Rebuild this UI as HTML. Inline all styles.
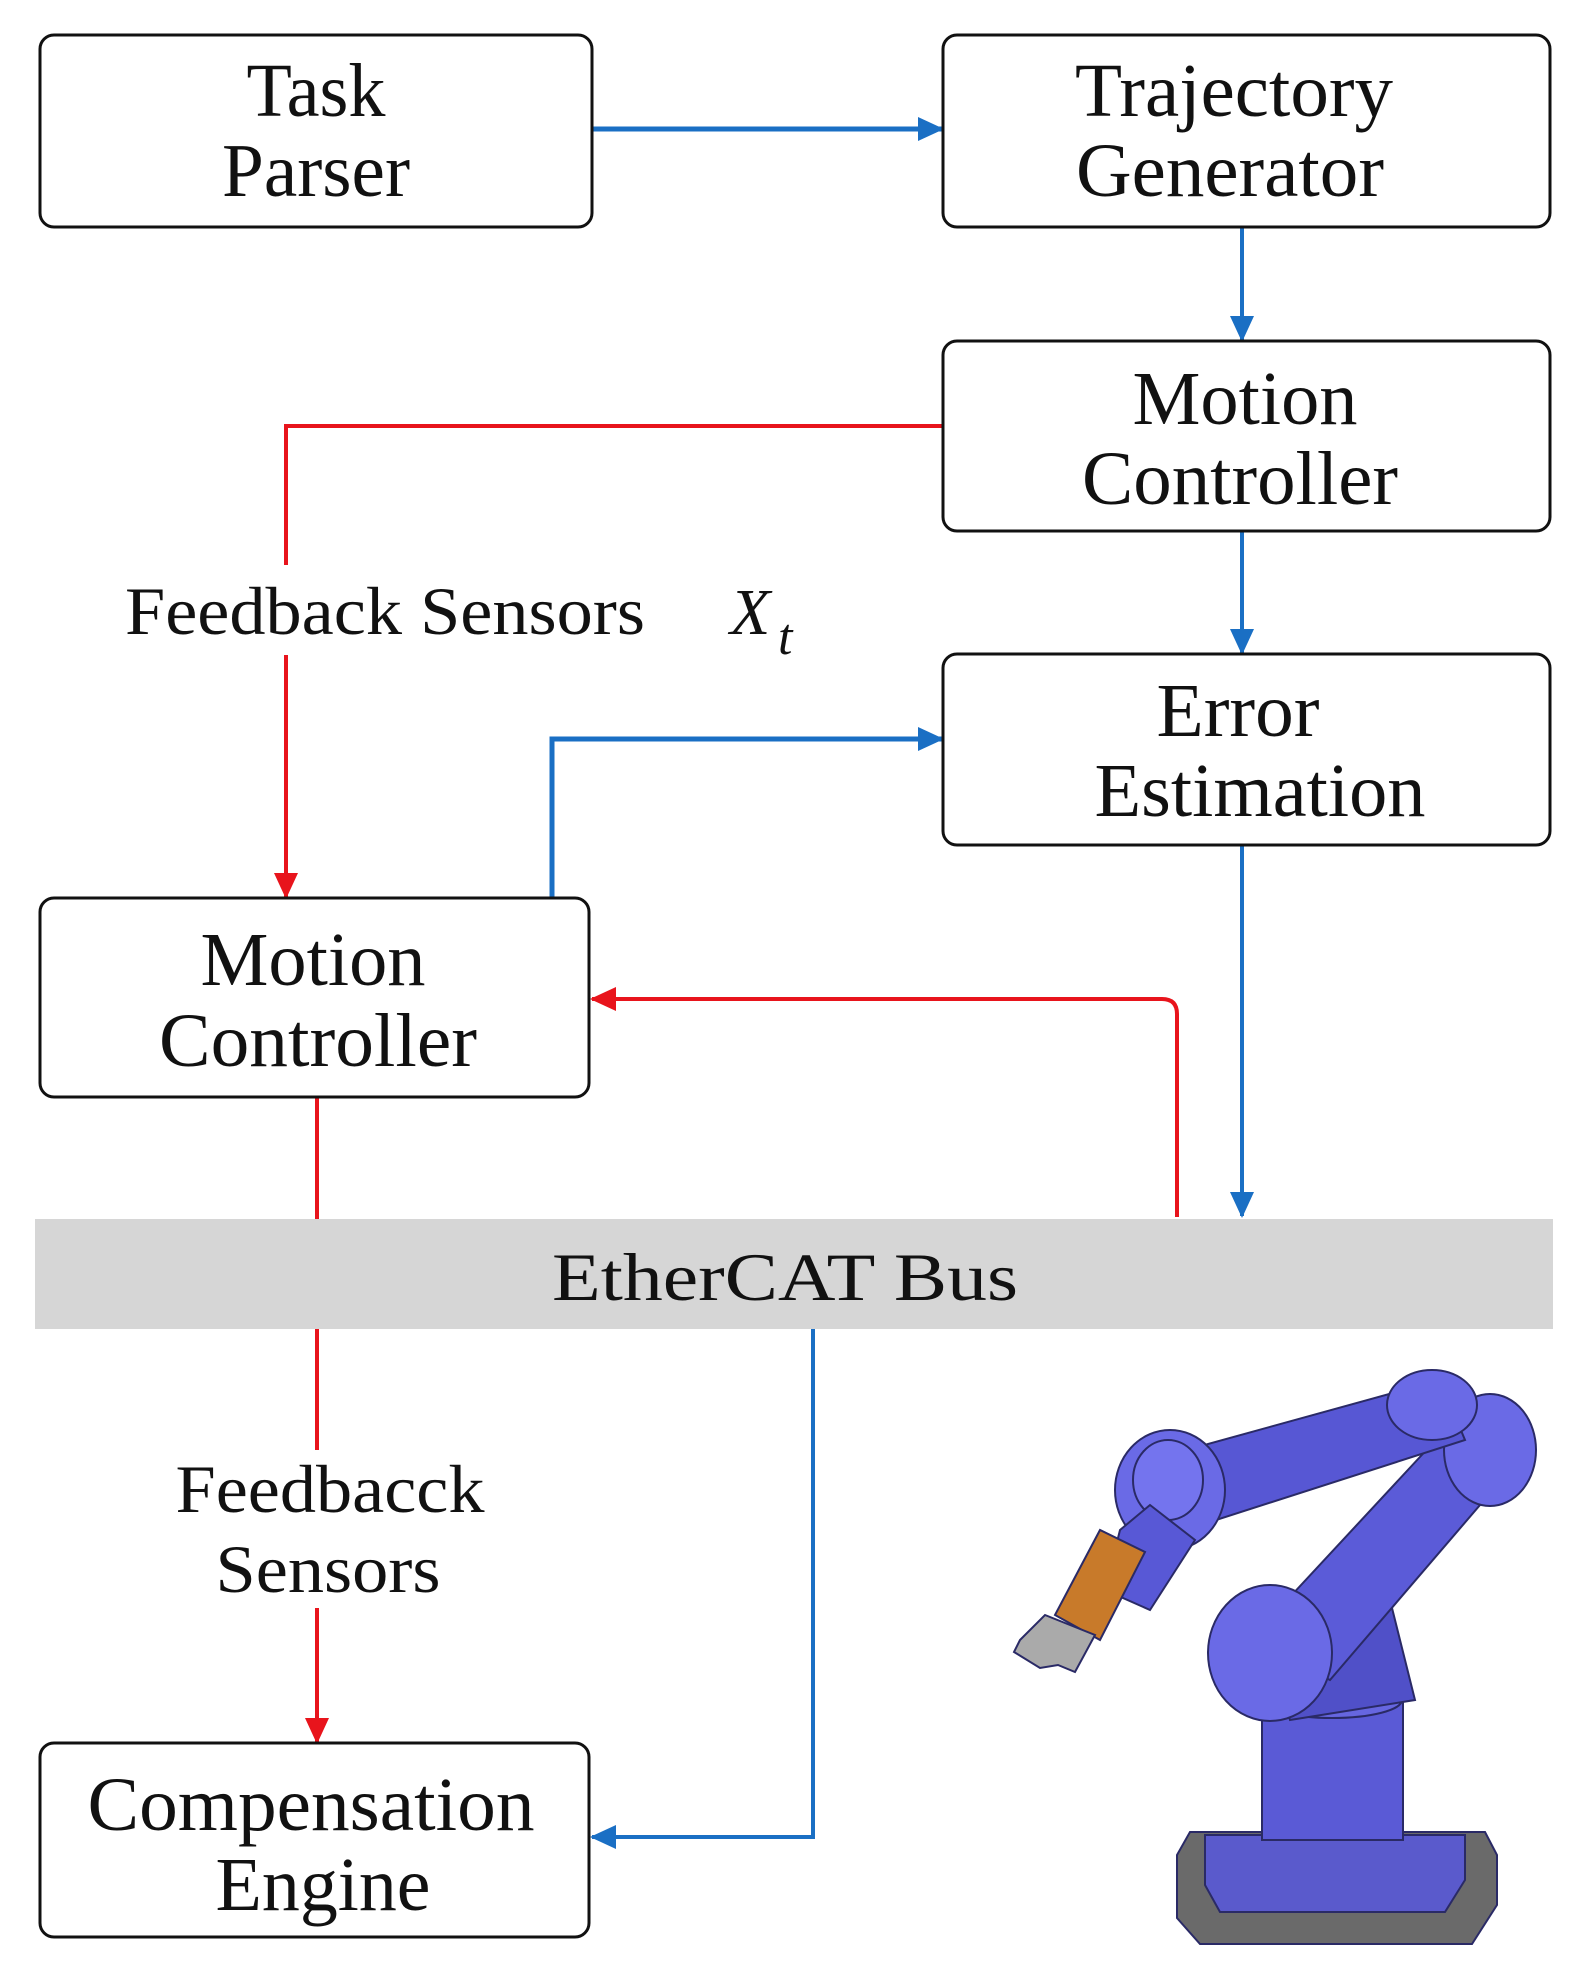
<!DOCTYPE html>
<html><head><meta charset="utf-8"><style>
html,body{margin:0;padding:0;background:#fff}
svg{display:block}
text{font-family:"Liberation Serif",serif;fill:#111}
</style></head><body>
<svg width="1593" height="1968" viewBox="0 0 1593 1968" xmlns="http://www.w3.org/2000/svg">
<defs>
<marker id="ab" markerWidth="26" markerHeight="24" refX="24" refY="12" orient="auto" markerUnits="userSpaceOnUse" viewBox="0 0 26 24"><path d="M0,0 L26,12 L0,24 z" fill="#1a6fc4"/></marker>
<marker id="ar" markerWidth="26" markerHeight="24" refX="24" refY="12" orient="auto" markerUnits="userSpaceOnUse" viewBox="0 0 26 24"><path d="M0,0 L26,12 L0,24 z" fill="#e8141c"/></marker>
</defs>
<style>
.box{fill:#fff;stroke:#111;stroke-width:3}
.bl{stroke:#1a6fc4;stroke-width:5;fill:none}
.rd{stroke:#e8141c;stroke-width:4;fill:none}
.t{font-size:76px;text-anchor:middle}
.s{font-size:68px;text-anchor:middle}
</style>
<!-- bus -->
<rect x="35" y="1219" width="1518" height="110" fill="#d6d6d6"/>
<text x="785" y="1300" class="s" textLength="466" lengthAdjust="spacingAndGlyphs">EtherCAT Bus</text>

<!-- connectors -->
<line class="bl" x1="592" y1="129" x2="942" y2="129" marker-end="url(#ab)"/>
<line class="bl" x1="1242" y1="227" x2="1242" y2="340" marker-end="url(#ab)" style="stroke-width:4"/>
<line class="bl" x1="1242" y1="531" x2="1242" y2="653" marker-end="url(#ab)" style="stroke-width:4"/>
<line class="bl" x1="1242" y1="845" x2="1242" y2="1216" marker-end="url(#ab)" style="stroke-width:4"/>
<polyline class="bl" points="552,898 552,739 942,739" marker-end="url(#ab)"/>
<polyline class="bl" points="813,1329 813,1837 592,1837" marker-end="url(#ab)" style="stroke-width:4"/>

<polyline class="rd" points="943,426 286,426 286,565"/>
<polyline class="rd" points="286,655 286,897" marker-end="url(#ar)"/>
<path class="rd" d="M1177,1217 L1177,1014 Q1177,999 1162,999 L592,999" marker-end="url(#ar)"/>
<line class="rd" x1="317" y1="1097" x2="317" y2="1219"/>
<line class="rd" x1="317" y1="1329" x2="317" y2="1450"/>
<line class="rd" x1="317" y1="1608" x2="317" y2="1742" marker-end="url(#ar)"/>

<!-- boxes -->
<rect class="box" x="40" y="35" width="552" height="192" rx="14"/>
<text x="316" y="116" class="t" textLength="139" lengthAdjust="spacingAndGlyphs">Task</text><text x="316" y="196" class="t" textLength="188" lengthAdjust="spacingAndGlyphs">Parser</text>
<rect class="box" x="943" y="35" width="607" height="192" rx="14"/>
<text x="1234" y="116" class="t" textLength="318" lengthAdjust="spacingAndGlyphs">Trajectory</text><text x="1230" y="196" class="t" textLength="308" lengthAdjust="spacingAndGlyphs">Generator</text>
<rect class="box" x="943" y="341" width="607" height="190" rx="14"/>
<text x="1245" y="424" class="t" textLength="225" lengthAdjust="spacingAndGlyphs">Motion</text><text x="1240" y="504" class="t" textLength="316" lengthAdjust="spacingAndGlyphs">Controller</text>
<rect class="box" x="943" y="654" width="607" height="191" rx="14"/>
<text x="1238" y="736" class="t" textLength="163" lengthAdjust="spacingAndGlyphs">Error</text><text x="1260" y="816" class="t" textLength="331" lengthAdjust="spacingAndGlyphs">Estimation</text>
<rect class="box" x="40" y="898" width="549" height="199" rx="14"/>
<text x="313" y="985" class="t" textLength="225" lengthAdjust="spacingAndGlyphs">Motion</text><text x="318" y="1066" class="t" textLength="318" lengthAdjust="spacingAndGlyphs">Controller</text>
<rect class="box" x="40" y="1743" width="549" height="194" rx="14"/>
<text x="311" y="1830" class="t" textLength="447" lengthAdjust="spacingAndGlyphs">Compensation</text><text x="323" y="1910" class="t" textLength="215" lengthAdjust="spacingAndGlyphs">Engine</text>

<text x="385" y="634" class="s" textLength="520" lengthAdjust="spacingAndGlyphs">Feedback Sensors</text>
<text x="730" y="634" font-size="66" font-style="italic">X</text><text x="778" y="654" font-size="52" font-style="italic">t</text>
<text x="330" y="1512" class="s" textLength="309" lengthAdjust="spacingAndGlyphs">Feedbacck</text>
<text x="328" y="1592" class="s" textLength="225" lengthAdjust="spacingAndGlyphs">Sensors</text>

<!-- robot -->
<g stroke="#2a2a66" stroke-width="2">
<path d="M1177,1855 L1190,1832 L1485,1832 L1497,1855 L1497,1905 L1472,1944 L1200,1944 L1177,1918 z" fill="#6a6a6a"/>
<path d="M1205,1835 L1465,1835 L1465,1880 L1445,1912 L1220,1912 L1205,1885 z" fill="#5a5acc"/>
<rect x="1262" y="1700" width="141" height="140" fill="#5a5ad6"/>
<ellipse cx="1332" cy="1700" rx="70" ry="18" fill="#6666e0"/>
<path d="M1262,1620 L1390,1600 L1415,1700 L1290,1720 z" fill="#5050c8"/>
<path d="M1250,1640 L1445,1430 L1510,1470 L1330,1680 z" fill="#5b5bd8"/>
<ellipse cx="1270" cy="1653" rx="62" ry="68" fill="#6a6ae6"/>
<ellipse cx="1490" cy="1450" rx="46" ry="56" fill="#6a6ae6"/>
<path d="M1150,1460 L1440,1380 L1465,1440 L1185,1530 z" fill="#5757d4"/>
<ellipse cx="1432" cy="1405" rx="45" ry="35" fill="#6a6ae6"/>
<ellipse cx="1170" cy="1490" rx="55" ry="60" fill="#6a6ae6"/>
<ellipse cx="1168" cy="1480" rx="35" ry="40" fill="#7474ee"/>
<path d="M1120,1530 L1150,1505 L1195,1540 L1150,1610 L1105,1590 z" fill="#5858d6"/>
<path d="M1055,1615 L1100,1530 L1145,1552 L1100,1640 z" fill="#c87a2a"/>
<path d="M1020,1640 L1045,1615 L1095,1635 L1075,1672 L1058,1665 L1040,1668 L1014,1652 z" fill="#aaaaaa"/>
</g>
</svg>
</body></html>
